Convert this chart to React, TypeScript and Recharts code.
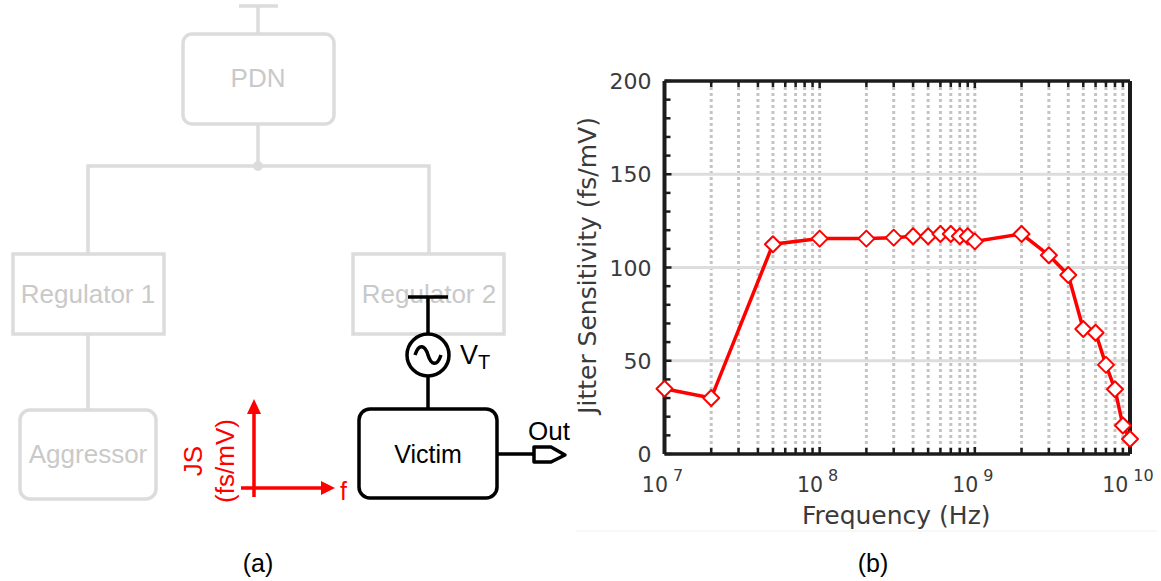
import { LineChart, Line, XAxis, YAxis, CartesianGrid, ReferenceLine } from 'recharts';

const frequencies = [1e7, 2e7, 5e7, 1e8, 2e8, 3e8, 4e8, 5e8, 6e8, 7e8, 8e8, 9e8, 1e9, 2e9, 3e9, 4e9, 5e9, 6e9, 7e9, 8e9, 9e9, 1e10];
const sensitivity = [35, 30, 112.5, 115.5, 115.5, 116, 116.8, 116.8, 118, 118, 116.8, 116.8, 114, 118, 106.6, 96, 67, 65, 47.8, 34.7, 15.3, 8];

const decades = [1e7, 1e8, 1e9, 1e10];
const xTicks = [
  1e7, 2e7, 3e7, 4e7, 5e7, 6e7, 7e7, 8e7, 9e7,
  1e8, 2e8, 3e8, 4e8, 5e8, 6e8, 7e8, 8e8, 9e8,
  1e9, 2e9, 3e9, 4e9, 5e9, 6e9, 7e9, 8e9, 9e9,
  1e10,
];
const yTicks = [0, 10, 20, 30, 40, 50, 60, 70, 80, 90, 100, 110, 120, 130, 140, 150, 160, 170, 180, 190, 200];
const yLabelled = [0, 50, 100, 150, 200];
const yGrid = [50, 100, 150];

const data = frequencies.map((freq, i) => ({ freq, js: sensitivity[i] }));

const CHART_FONT = '"DejaVu Sans", sans-serif';
const SCHEMATIC_FONT = '"Liberation Sans", Arial, sans-serif';
const TEXT = '#3a3a3a';
const AXIS = '#1c1c1c';
const GHOST = '#dcdcdc';
const GHOST_TEXT = '#c9c9c9';

function BottomTick({ x, y, payload }: any) {
  const major = decades.includes(payload.value);
  const exp = Math.round(Math.log10(payload.value));
  return (
    <g>
      <line x1={x} x2={x} y1={y} y2={y - (major ? 7 : 6)} stroke={AXIS} strokeWidth={2.5} />
      {major && (
        <text x={x - 2} y={y + 38} textAnchor="middle" fill={TEXT} fontFamily={CHART_FONT} fontSize={20.5}>
          10
          <tspan dx={5} dy={-11} fontSize={16}>{exp}</tspan>
        </text>
      )}
    </g>
  );
}

function TopTick({ x, y, payload }: any) {
  const major = decades.includes(payload.value);
  return <line x1={x} x2={x} y1={y} y2={y + (major ? 7 : 6)} stroke={AXIS} strokeWidth={2.5} />;
}

function LeftTick({ x, y, payload }: any) {
  const major = yLabelled.includes(payload.value);
  return (
    <g>
      <line x1={x} x2={x + (major ? 7 : 6)} y1={y} y2={y} stroke={AXIS} strokeWidth={2.5} />
      {major && (
        <text x={x - 13} y={y + 8} textAnchor="end" fill={TEXT} fontFamily={CHART_FONT} fontSize={22}>
          {payload.value}
        </text>
      )}
    </g>
  );
}

function RightTick({ x, y, payload }: any) {
  const major = yLabelled.includes(payload.value);
  return <line x1={x} x2={x - (major ? 7 : 6)} y1={y} y2={y} stroke={AXIS} strokeWidth={2.5} />;
}

function DiamondDot({ cx, cy, index }: any) {
  const r = 8;
  return (
    <path
      key={index}
      d={`M${cx - r},${cy}L${cx},${cy - r}L${cx + r},${cy}L${cx},${cy + r}Z`}
      fill="#fff"
      stroke="#ff0000"
      strokeWidth={2}
      strokeLinejoin="round"
    />
  );
}

function Schematic() {
  const box = { fill: 'none', stroke: GHOST, strokeWidth: 3.5 };
  const ghostText = { fill: GHOST_TEXT, fontSize: 26, textAnchor: 'middle' as const };
  return (
    <svg width={1161} height={581} style={{ position: 'absolute', left: 0, top: 0 }} fontFamily={SCHEMATIC_FONT}>
      {/* greyed out power tree */}
      <g stroke={GHOST} strokeWidth={3.5} fill="none">
        <path d="M239,6H278M258,6V34M258,124V166M88,253V166H429V253M88,334V409" />
      </g>
      <circle cx={258} cy={166} r={5} fill={GHOST} />
      <rect x={183} y={34} width={151} height={90} rx={9} {...box} />
      <rect x={13} y={254} width={151} height={80} {...box} />
      <rect x={353} y={254} width={151} height={80} {...box} />
      <rect x={20} y={410} width={136} height={89} rx={10} {...box} />
      <text x={258} y={87} {...ghostText}>PDN</text>
      <text x={88} y={303} {...ghostText}>Regulator 1</text>
      <text x={429} y={303} {...ghostText}>Regulator 2</text>
      <text x={88} y={463} {...ghostText}>Aggressor</text>

      {/* victim path */}
      <g stroke="#000" strokeWidth={3.5} fill="none">
        <path d="M408,297H448M428,297V334M428,376V409M497,454H534" />
        <circle cx={428} cy={355} r={21} />
        <path d="M415,355C419,343 425,345 428,355C431,365 437,367 441,355" />
        <rect x={359} y={409} width={138} height={89} rx={11} />
        <path d="M534,447H551L565,455L551,462H534Z" strokeLinejoin="round" />
      </g>
      <text x={428} y={463} fontSize={25} textAnchor="middle" fill="#000">Victim</text>
      <text x={460} y={364} fontSize={27} fill="#000">V</text>
      <text x={478} y={369} fontSize={20} fill="#000">T</text>
      <text x={528} y={440} fontSize={26} fill="#000">Out</text>

      {/* red axes sketch */}
      <g stroke="#ff0000" strokeWidth={3.5} fill="none">
        <path d="M254,497V410M241,488H324" />
      </g>
      <path d="M254,399L261,414H247Z" fill="#ff0000" />
      <path d="M335,488L321,481V495Z" fill="#ff0000" />
      <text x={340} y={500} fontSize={25} fill="#ff0000">f</text>
      <text transform="translate(202,461) rotate(-90)" fontSize={26} textAnchor="middle" fill="#ff0000">JS</text>
      <text transform="translate(234,461) rotate(-90)" fontSize={26} textAnchor="middle" fill="#ff0000">(fs/mV)</text>

      <text x={258} y={572} fontSize={25} textAnchor="middle" fill="#000">(a)</text>
      <text x={873} y={572} fontSize={25} textAnchor="middle" fill="#000">(b)</text>

      <line x1={576} x2={1157} y1={531} y2={531} stroke="#efefef" strokeWidth={1} />
    </svg>
  );
}

export default function App() {
  return (
    <div style={{ position: 'absolute', left: 0, top: 0, width: 1161, height: 581, background: '#fff' }}>
      <Schematic />
      <div style={{ position: 'absolute', left: 0, top: 0 }}>
        <LineChart
          width={1161}
          height={581}
          data={data}
          margin={{ top: 80, right: 30, bottom: 52, left: 589.5 }}
        >
          <CartesianGrid
            horizontal={false}
            verticalValues={xTicks}
            stroke="#c4c4c4"
            strokeWidth={3}
            strokeDasharray="3 3"
          />
          <CartesianGrid vertical={false} horizontalValues={yGrid} stroke="#dddddd" strokeWidth={3} />
          <XAxis
            dataKey="freq"
            type="number"
            scale="log"
            domain={[1e7, 1e10]}
            ticks={xTicks}
            interval={0}
            height={75}
            axisLine={false}
            tickLine={false}
            tickSize={0}
            tickMargin={0}
            tick={<BottomTick />}
            label={{
              value: 'Frequency (Hz)',
              position: 'insideBottom',
              dx: -1,
              fill: TEXT,
              fontFamily: CHART_FONT,
              fontSize: 25,
            }}
          />
          <XAxis
            xAxisId="top"
            orientation="top"
            dataKey="freq"
            type="number"
            scale="log"
            domain={[1e7, 1e10]}
            ticks={xTicks}
            interval={0}
            height={1}
            axisLine={false}
            tickLine={false}
            tickSize={0}
            tickMargin={0}
            tick={<TopTick />}
          />
          <YAxis
            type="number"
            domain={[0, 200]}
            ticks={yTicks}
            interval={0}
            width={75}
            axisLine={false}
            tickLine={false}
            tickSize={0}
            tickMargin={0}
            tick={<LeftTick />}
            label={{
              value: 'Jitter Sensitivity (fs/mV)',
              angle: -90,
              position: 'insideLeft',
              dx: -7,
              dy: -2,
              style: { textAnchor: 'middle' },
              fill: TEXT,
              fontFamily: CHART_FONT,
              fontSize: 25,
            }}
          />
          <YAxis
            yAxisId="right"
            orientation="right"
            type="number"
            domain={[0, 200]}
            ticks={yTicks}
            interval={0}
            width={1}
            axisLine={false}
            tickLine={false}
            tickSize={0}
            tickMargin={0}
            tick={<RightTick />}
          />
          <ReferenceLine y={200} stroke={AXIS} strokeWidth={3.5} />
          <ReferenceLine y={0} stroke={AXIS} strokeWidth={3.5} />
          <ReferenceLine x={1e7} stroke={AXIS} strokeWidth={4} />
          <ReferenceLine x={1e10} stroke={AXIS} strokeWidth={4} />
          <Line
            dataKey="js"
            stroke="#ff0000"
            strokeWidth={3.5}
            dot={<DiamondDot />}
            isAnimationActive={false}
          />
        </LineChart>
      </div>
    </div>
  );
}
